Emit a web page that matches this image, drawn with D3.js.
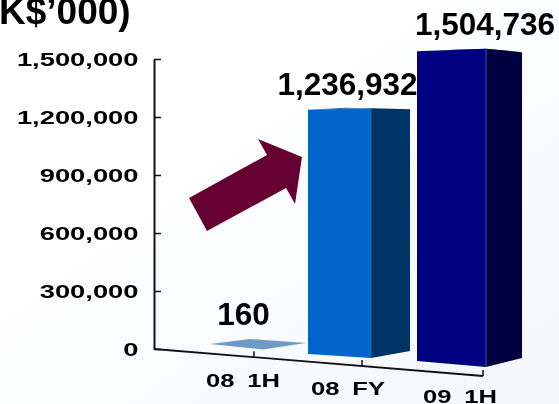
<!DOCTYPE html>
<html><head><meta charset="utf-8">
<script src="https://cdnjs.cloudflare.com/ajax/libs/d3/7.8.5/d3.min.js"></script>
<style>html,body{margin:0;padding:0;background:#fff}svg{display:block}text{font-family:"Liberation Sans",Arial,sans-serif;font-weight:bold;fill:#000}</style>
</head><body><svg id="c" width="559" height="404"></svg>
<script>
const title = "K$’000)";
const categories = ["08 1H", "08 FY", "09 1H"];
const values = [160, 1236932, 1504736];
const valueLabels = ["160", "1,236,932", "1,504,736"];
const yTicks = [0, 300000, 600000, 900000, 1200000, 1500000];
const frontColors = ["#6f9ac6", "#0066cc", "#000080"];
const sideColors = ["#6f9ac6", "#003366", "#000040"];
const topColors = ["#6f9ac6", "#3a68b4", "#2a2a96"];

const svg = d3.select("#c");
const defs = svg.append("defs");
const bg = defs.append("linearGradient").attr("id","bg").attr("x1",0).attr("y1",0).attr("x2",1).attr("y2",1);
bg.append("stop").attr("offset","0.35").attr("stop-color","#ffffff");
bg.append("stop").attr("offset","1").attr("stop-color","#f3f6fb");
defs.append("filter").attr("id","soft").attr("x","-5%").attr("y","-20%").attr("width","110%").attr("height","140%")
  .append("feGaussianBlur").attr("stdDeviation",0.4);
svg.append("rect").attr("width",559).attr("height",404).attr("fill","url(#bg)");

const idx = categories.map((_, i) => i);
const scale = (r) => d3.scaleLinear().domain([0,1,2]).range(r);
const y = d3.scaleLinear().domain([0,1500000]).range([349,59]);
const midX = scale([263,371,486]);
const frontW = scale([53,63,69]);
const sideW = scale([43,39,36]);
const baseY = scale([349.5,358,367]);
const stretch = scale([1,1.044,1.094]);
const leftBaseRise = scale([5.5,4,6]);
const rightBaseRise = scale([6.5,7,9]);
const leftTopDrop = scale([-5.5,1.5,2.5]);
const rightTopDrop = scale([-6.5,1,3.5]);
const backTopDrop = scale([-10.5,-0.5,1]);
const backShift = scale([-13,-26,-30]);
const tickX = scale([254,362,483]);
const xAxisY = d3.scaleLinear().domain([154,483]).range([349,376]);

const marks = svg.append("g").selectAll("g").data(idx).join("g");
const topY = i => baseY(i) - (y(0)-y(values[i]))*stretch(i);
const poly = pts => pts.map(p=>p.join(",")).join(" ");
marks.append("polygon").attr("fill",i=>topColors[i]).attr("points",i=>poly([
  [midX(i)-frontW(i),topY(i)+leftTopDrop(i)],[midX(i),topY(i)],[midX(i)+sideW(i),topY(i)+rightTopDrop(i)],[midX(i)+backShift(i),topY(i)+backTopDrop(i)]]));
marks.filter(i=>values[i]>1000).append("polygon").attr("fill",i=>frontColors[i]).attr("points",i=>poly([
  [midX(i)-frontW(i),topY(i)+leftTopDrop(i)],[midX(i),topY(i)],[midX(i),baseY(i)],[midX(i)-frontW(i),baseY(i)-leftBaseRise(i)]]));
marks.filter(i=>values[i]>1000).append("polygon").attr("fill",i=>sideColors[i]).attr("points",i=>poly([
  [midX(i),topY(i)],[midX(i)+sideW(i),topY(i)+rightTopDrop(i)],[midX(i)+sideW(i),baseY(i)-rightBaseRise(i)],[midX(i),baseY(i)]]));
marks.filter(i=>values[i]>1000).append("line").attr("x1",midX).attr("x2",midX).attr("y1",topY).attr("y2",baseY)
  .attr("stroke","#3f6aa8").attr("stroke-width",0.8);

// y axis
const yG = svg.append("g").attr("transform","translate(154,0)")
  .call(d3.axisLeft(y).tickValues(yTicks).tickFormat(d3.format(",")).tickSizeInner(-7).tickSizeOuter(0));
yG.select(".domain").attr("stroke","#111").attr("stroke-width",2);
yG.selectAll(".tick line").attr("stroke","#111").attr("stroke-width",1.5);
const sx = 1.52;
yG.selectAll(".tick text").attr("text-anchor","end").attr("x",-15.5/sx).attr("dy","0.35em")
  .attr("transform",`scale(${sx},1)`).style("font-size","18px").style("font-family",'"Liberation Sans",Arial,sans-serif').attr("fill","#000").attr("filter","url(#soft)");

// x axis
const xG = svg.append("g");
xG.append("line").attr("x1",154).attr("x2",483).attr("y1",xAxisY(154)).attr("y2",xAxisY(483)).attr("stroke","#111").attr("stroke-width",1.8);
xG.selectAll(".t").data(idx).join("line").attr("class","t")
  .attr("x1",tickX).attr("x2",tickX).attr("y1",i=>xAxisY(tickX(i))).attr("y2",i=>xAxisY(tickX(i))-6)
  .attr("stroke","#111").attr("stroke-width",1.5);
const catX = scale([243,348,460]), catY = scale([387,394.5,403]);
xG.selectAll(".c").data(idx).join("text").attr("class","c")
  .attr("text-anchor","middle").style("word-spacing","4px").style("font-size","18px").attr("filter","url(#soft)")
  .attr("transform",i=>`translate(${catX(i)},${catY(i)}) scale(1.42,1)`).text(i=>categories[i]);

// value labels
const labelX = scale([243.5,347.5,485]), labelY = scale([325,95,35]);
svg.selectAll(".v").data(idx).join("text").attr("class","v").attr("text-anchor","middle").attr("filter","url(#soft)")
  .attr("x",labelX).attr("y",labelY).style("font-size","31.5px").text(i=>valueLabels[i]);

// title
svg.append("text").attr("x",-1).attr("y",24).style("font-size","37px").attr("filter","url(#soft)").text(title);

// arrow annotation
const arrow = d3.line()([[189,198],[267,155],[258,139],[302,157],[295,204],[286,188],[207,231]]) + "Z";
svg.append("path").attr("d",arrow).attr("fill","#660033");
</script></body></html>
